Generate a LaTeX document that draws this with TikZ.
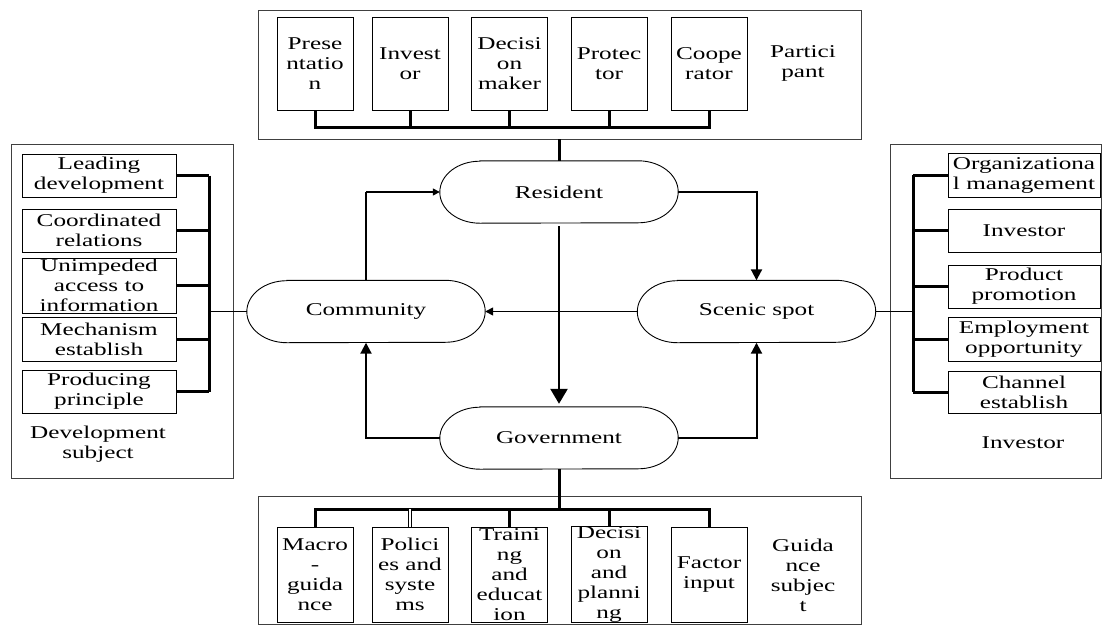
\documentclass[tikz,border=0pt]{standalone}
\usepackage{fontspec}
\setmainfont{Liberation Serif}[FakeStretch=1.4]
\usetikzlibrary{arrows.meta}
\newcommand{\fs}{\fontsize{18}{20}\selectfont}
\newcommand{\pillpath}[1]{\draw[line width=0.9pt] ([xshift=40pt]#1.north west) -- ([xshift=-40pt]#1.north east) arc[start angle=90,end angle=-90,x radius=40pt,y radius=31pt] -- ([xshift=40pt]#1.south west) arc[start angle=270,end angle=90,x radius=40pt,y radius=31pt] -- cycle;}
\begin{document}
\begin{tikzpicture}[x=1pt,y=-1pt,
 outer/.style={draw=black!75, line width=0.9pt, inner sep=0pt},
 ibox/.style={draw, line width=0.9pt, inner sep=0pt, align=center, font=\fs},
 vbox/.style={ibox, minimum width=76pt, minimum height=93pt},
 wbox/.style={ibox, minimum width=76pt, minimum height=95pt},
 lbox/.style={ibox, minimum width=154pt},
 rbox/.style={ibox, minimum width=152pt},
 lbl/.style={inner sep=0pt, align=center, font=\fs},
 pill/.style={inner sep=0pt, minimum width=238pt, minimum height=62pt, font=\fs},
 bus/.style={line width=3pt},
 thinlink/.style={line width=1pt},
 arr/.style={line width=2pt, -{Triangle[length=11pt,width=11pt]}},
]
\useasboundingbox (0,0) rectangle (1102,624);

% outer boxes
\node[outer, minimum width=603pt, minimum height=129pt] (topbox) at (559.5,74.5) {};
\node[outer, minimum width=603pt, minimum height=128pt] (botbox) at (559.5,560) {};
\node[outer, minimum width=222pt, minimum height=334pt] (leftbox) at (122,311) {};
\node[outer, minimum width=211pt, minimum height=334pt] (rightbox) at (995.5,311) {};

% top inner boxes
\node[vbox] (p1) at (315,63.5) {Prese\\ntatio\\n};
\node[vbox] (p2) at (410,63.5) {Invest\\or};
\node[vbox] (p3) at (509.5,63.5) {Decisi\\on\\maker};
\node[vbox] (p4) at (609,63.5) {Protec\\tor};
\node[vbox] (p5) at (709,63.5) {Coope\\rator};
\node[lbl] (plbl) at (803,63) {Partici\\pant};

% bottom inner boxes
\node[wbox] (m1) at (315,574.5) {Macro\\-\\guida\\nce};
\node[wbox] (m2) at (410,574.5) {Polici\\es and\\syste\\ms};
\node[wbox] (m3) at (509.5,574.5) {Traini\\ng\\and\\educat\\ion};
\node[wbox] (m4) at (609,574.5) {Decisi\\on\\and\\planni\\ng};
\node[wbox] (m5) at (709,574.5) {Factor\\input};
\node[lbl] (glbl) at (803,575.5) {Guida\\nce\\subjec\\t};

% left inner boxes
\node[lbox, minimum height=43pt] (l1) at (99,175.5) {Leading\\development};
\node[lbox, minimum height=43pt] (l2) at (99,230.5) {Coordinated\\relations};
\node[lbox, minimum height=55pt] (l3) at (99,285.5) {Unimpeded\\access to\\information};
\node[lbox, minimum height=44pt] (l4) at (99,339) {Mechanism\\establish};
\node[lbox, minimum height=43pt] (l5) at (99,391.5) {Producing\\principle};
\node[lbl] (dlbl) at (98,444.5) {Development\\subject};

% right inner boxes
\node[rbox, minimum height=44pt] (r1) at (1024,175) {Organizationa\\l management};
\node[rbox, minimum height=43pt] (r2) at (1024,230.5) {Investor};
\node[rbox, minimum height=43pt] (r3) at (1024,286.5) {Product\\promotion};
\node[rbox, minimum height=44pt] (r4) at (1024,339) {Employment\\opportunity};
\node[rbox, minimum height=42pt] (r5) at (1024,392) {Channel\\establish};
\node[lbl] (ilbl) at (1023,443) {Investor};

% central pills
\node[pill] (res) at (559,192) {Resident};
\node[pill] (com) at (366,311.5) {Community};
\node[pill] (sce) at (756.5,311.5) {Scenic spot};
\node[pill] (gov) at (559,438) {Government};
\pillpath{res}
\pillpath{com}
\pillpath{sce}
\pillpath{gov}

% top bus
\coordinate (tbus) at (559,127);
\draw[bus] (p1.south) -- (p1.south |- tbus) -- (p5.south |- tbus) -- (p5.south);
\foreach \n in {p2,p3,p4} \draw[bus] (\n.south) -- (\n.south |- tbus);
\draw[bus] (res.north |- topbox.south) -- (res.north);

% bottom bus
\coordinate (bbus) at (559,509);
\draw[bus] (m1.north) -- (m1.north |- bbus) -- (m5.north |- bbus) -- (m5.north);
\foreach \n in {m3,m4} \draw[bus] (\n.north) -- (\n.north |- bbus);
\draw[line width=0.8pt, double, double distance=2.2pt] (m2.north) -- (m2.north |- bbus);
\draw[bus] (gov.south) -- (bbus);

% left bus
\coordinate (lbus) at (209,300);
\draw[bus] (l1.east -| lbus) -- (l5.east -| lbus);
\foreach \n in {l1,l2,l3,l4,l5} \draw[bus] (\n.east) -- (\n.east -| lbus);
\draw[thinlink] (com.west -| lbus) -- (com.west);

% right bus
\coordinate (rbus) at (913,300);
\draw[bus] (r1.west -| rbus) -- (r5.west -| rbus);
\foreach \n in {r1,r2,r3,r4,r5} \draw[bus] (\n.west) -- (\n.west -| rbus);
\draw[thinlink] (sce.east) -- (sce.east -| rbus);

% central arrows
\draw[line width=2.5pt] (com.north) -- (com.north |- res.west);
\draw[line width=1.3pt, -{Triangle[length=7pt,width=7pt]}] (com.north |- res.west) -- (res.west);
\draw[arr] (res.east) -| (sce.north);
\draw[line width=2.5pt, -{Triangle[length=15pt,width=17pt]}] ([yshift=-3pt]res.south) -- ([yshift=3pt]gov.north);
\draw[line width=1.5pt, -{Triangle[length=8pt,width=8pt]}] (sce.west) -- (com.east);
\draw[arr] (gov.west) -| (com.south);
\draw[arr] (gov.east) -| (sce.south);
\end{tikzpicture}
\end{document}
